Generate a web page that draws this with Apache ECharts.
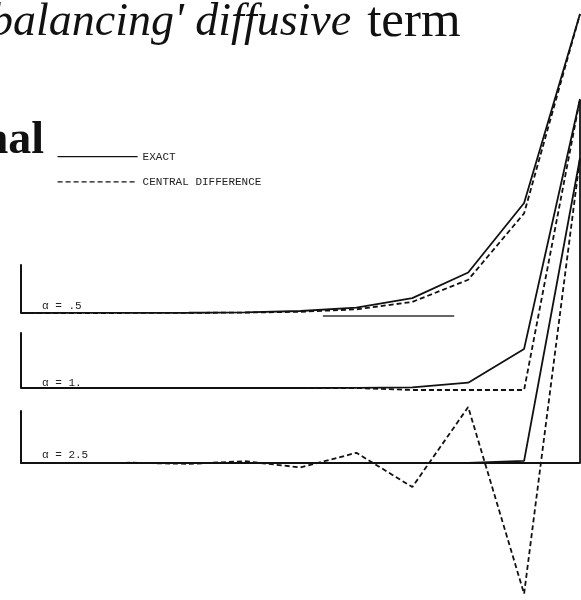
<!DOCTYPE html>
<html>
<head>
<meta charset="utf-8">
<script src="https://cdn.jsdelivr.net/npm/echarts@6/dist/echarts.min.js"></script>
<style>
  html, body { margin: 0; padding: 0; background: #fff; }
  #chart { width: 581px; height: 600px; }
</style>
</head>
<body>
<div id="chart"></div>
<script>
// Grid nodes along the domain (10 intervals)
const nodes = [0, 0.1, 0.2, 0.3, 0.4, 0.5, 0.6, 0.7, 0.8, 0.9, 1];

// alpha = .5
const exactA05   = [0, 0.0001, 0.0003, 0.0009, 0.0024, 0.0067, 0.0183, 0.0497, 0.1353, 0.3679, 1];
const centralA05 = [0, 0.0000, 0.0001, 0.0004, 0.0014, 0.0041, 0.0123, 0.0370, 0.1111, 0.3333, 1];

// alpha = 1.
const exactA1   = [0, 0, 0, 0, 0, 0, 0.0003, 0.0025, 0.0183, 0.1353, 1];
const centralA1 = [0, 0, 0, 0, 0, 0, 0, -0.007, -0.007, -0.007, 1];

// alpha = 2.5
const exactA25   = [0, 0, 0, 0, 0, 0, 0, 0, 0, 0.0067, 1];
const centralA25 = [0, -0.0007, 0.0009, -0.0029, 0.0060, -0.0147, 0.0335, -0.0789, 0.1835, -0.4289, 1];

// Frame strokes: short rule under the first panel, right edge of the last panel
const ruleA05   = [[0.54, -0.01], [0.775, -0.01]];
const edgeA25   = [[1, 0], [1, 1.19]];

const seriesNames = ['EXACT', 'CENTRAL DIFFERENCE'];
const panelLabels = ['\u03b1 = .5', '\u03b1 = 1.', '\u03b1 = 2.5'];

// Panel frames: short axis box, and the pixel height of one unit of phi
const panelFrames = [
  { top: 265, height: 48, unit: 299 },
  { top: 333, height: 55, unit: 289 },
  { top: 411, height: 52, unit: 305 }
];
const panelData = [
  [exactA05, centralA05],
  [exactA1, centralA1],
  [exactA25, centralA25]
];

const INK = '#111';
const LINE_W = 1.8;
const grids = [], xAxes = [], yAxes = [], series = [], graphics = [];

function frameSeries(i, pts, color) {
  return {
    type: 'line', name: 'frame-' + i, xAxisIndex: i, yAxisIndex: i,
    data: pts, symbol: 'none', clip: false, silent: true, z: 1,
    color: color, lineStyle: { color: color, width: LINE_W }
  };
}

panelFrames.forEach((f, i) => {
  grids.push({ left: 21, right: 1, top: f.top, height: f.height });
  xAxes.push({
    type: 'value', gridIndex: i, min: 0, max: 1,
    axisLine: { show: i === 2, onZero: true, lineStyle: { color: INK, width: LINE_W } },
    axisTick: { show: false }, axisLabel: { show: false }, splitLine: { show: false }
  });
  yAxes.push({
    type: 'value', gridIndex: i, min: 0, max: f.height / f.unit,
    axisLine: { show: true, lineStyle: { color: INK, width: 2 } },
    axisTick: { show: false }, axisLabel: { show: false }, splitLine: { show: false }
  });

  const [exact, central] = panelData[i];
  series.push({
    type: 'line', name: seriesNames[0], xAxisIndex: i, yAxisIndex: i,
    data: nodes.map((x, k) => [x, exact[k]]),
    symbol: 'none', clip: false, silent: true, z: 3,
    color: INK,
    lineStyle: { color: INK, width: LINE_W }
  });
  series.push({
    type: 'line', name: seriesNames[1], xAxisIndex: i, yAxisIndex: i,
    data: nodes.map((x, k) => [x, central[k]]),
    symbol: 'none', clip: false, silent: true, z: 2,
    color: INK,
    lineStyle: { color: INK, width: LINE_W, type: [5, 3] }
  });
});

series.push(frameSeries(0, ruleA05, '#666'));
series.push(frameSeries(2, edgeA25, INK));

const labelY = [306.5, 383, 455];
panelLabels.forEach((t, i) => {
  graphics.push({
    type: 'text', x: 42, y: labelY[i], silent: true,
    style: { text: t, font: '11px "Liberation Mono"', fill: '#222', verticalAlign: 'middle' }
  });
});

const chart = echarts.init(document.getElementById('chart'), null, { renderer: 'canvas' });
chart.setOption({
  animation: false,
  backgroundColor: '#fff',
  title: [
    {
      text: "{i|balancing' diffusive}{r|term}",
      left: -10, top: -3, padding: 0,
      textStyle: {
        fontWeight: 'normal',
        rich: {
          i: { fontFamily: 'Liberation Serif', fontStyle: 'italic', fontWeight: 'normal', fontSize: 46, color: INK },
          r: { fontFamily: 'Liberation Serif', fontWeight: 'normal', fontSize: 51, color: INK, padding: [0, 0, 0, 16] }
        }
      }
    },
    {
      text: 'nal',
      right: 537, top: 118, padding: 0,
      textStyle: { fontFamily: 'Liberation Serif', fontWeight: 'bold', fontSize: 46, color: INK }
    }
  ],
  legend: {
    orient: 'vertical', left: 52, top: 146,
    itemWidth: 80, itemHeight: 14, itemGap: 14,
    selectedMode: false,
    data: seriesNames,
    itemStyle: { color: 'transparent', borderWidth: 0 },
    lineStyle: { width: 1.2 },
    textStyle: { fontFamily: 'Liberation Mono', fontSize: 11, color: '#222' }
  },
  grid: grids,
  xAxis: xAxes,
  yAxis: yAxes,
  series: series,
  graphic: graphics
});
</script>
</body>
</html>
